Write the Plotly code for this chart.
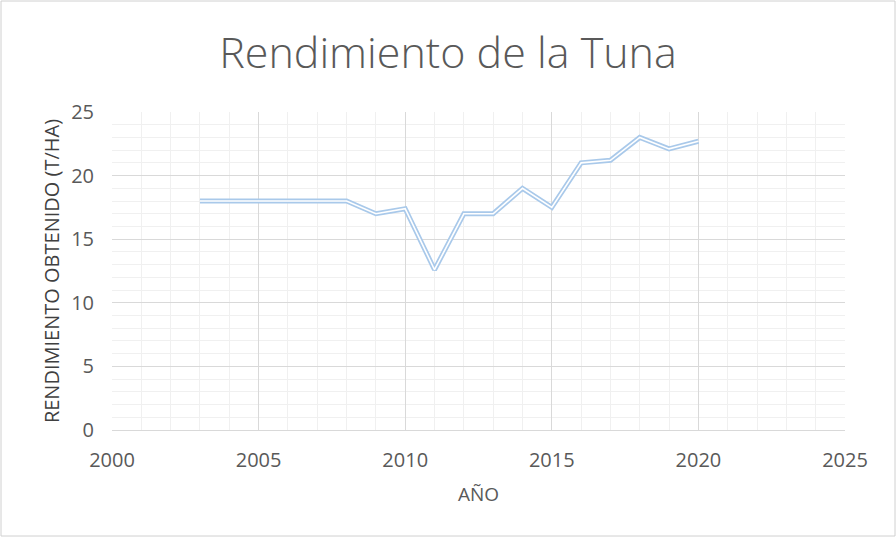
import plotly.graph_objects as go

years = [2003, 2004, 2005, 2006, 2007, 2008, 2009, 2010, 2011, 2012, 2013, 2014, 2015, 2016, 2017, 2018, 2019, 2020]
rendimiento = [18.0, 18.0, 18.0, 18.0, 18.0, 18.0, 17.0, 17.4, 12.6, 17.0, 17.0, 19.0, 17.5, 21.0, 21.2, 23.0, 22.1, 22.7]

x_ticks = [2000, 2005, 2010, 2015, 2020, 2025]
y_ticks = [0, 5, 10, 15, 20, 25]

W, H = 896, 537
ml, mr, mt, mb = 112, 51, 112, 107

fig = go.Figure()
fig.add_trace(go.Scatter(x=years, y=rendimiento, mode="lines",
                         line=dict(color="#a9c9ea", width=5), hoverinfo="skip", showlegend=False))
fig.add_trace(go.Scatter(x=years, y=rendimiento, mode="lines",
                         line=dict(color="#ffffff", width=1.6), showlegend=False))

font_family = "Open Sans, Liberation Sans, sans-serif"
fig.update_layout(
    width=W, height=H,
    margin=dict(l=ml, r=mr, t=mt, b=mb),
    paper_bgcolor="white", plot_bgcolor="white",
    title=dict(text="Rendimiento de la Tuna", x=0.5, xanchor="center", y=0.902, yanchor="middle",
               font=dict(family="Open Sans, sans-serif", size=43, color="#595959", weight=300)),
    xaxis=dict(range=[2000, 2025], tickvals=x_ticks, ticktext=[str(v) for v in x_ticks],
               showgrid=True, gridcolor="#d9d9d9", gridwidth=1,
               minor=dict(dtick=1, showgrid=True, gridcolor="#f0f0f0", gridwidth=1),
               zeroline=False, showline=True, linecolor="#d9d9d9", mirror=False,
               tickfont=dict(family=font_family, size=20, color="#595959"),
               ticks="", ticklen=0, ticklabelstandoff=12,
               title=dict(text="AÑO", font=dict(family=font_family, size=19, color="#595959"), standoff=15)),
    yaxis=dict(range=[0, 25], tickvals=y_ticks, showgrid=True, gridcolor="#d9d9d9", gridwidth=1,
               minor=dict(dtick=1, showgrid=True, gridcolor="#f0f0f0", gridwidth=1),
               zeroline=False, showline=False,
               tickfont=dict(family=font_family, size=20, color="#595959"),
               ticks="", ticklen=0, ticklabelstandoff=17,
               title=dict(text="RENDIMIENTO OBTENIDO (T/HA)",
                          font=dict(family=font_family, size=20, color="#404040"), standoff=6)),
)

pw = W - ml - mr
ph = H - mt - mb
fig.add_shape(type="rect", xref="paper", yref="paper",
              x0=(-ml + 1) / pw, x1=(W - ml - 1) / pw,
              y0=(-mb + 1) / ph, y1=(H - mb - 1) / ph,
              line=dict(color="#d0d0d0", width=1), layer="below")

fig.write_html("out.html", config={"displayModeBar": False},
               post_script="document.body.style.margin='0';document.body.style.overflow='hidden';")
